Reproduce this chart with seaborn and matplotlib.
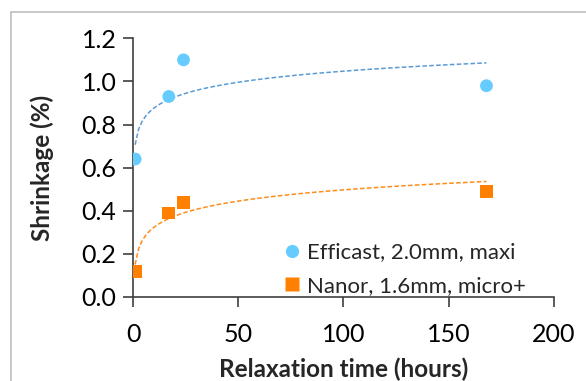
import matplotlib
matplotlib.use("Agg")
import matplotlib.pyplot as plt
from matplotlib.lines import Line2D
import seaborn as sns
import pandas as pd

sns.set_style("white")
plt.rcParams['font.family'] = ['Lato', 'DejaVu Sans']

# Data
time_hours = [1, 17, 24, 168]
efficast = [0.64, 0.93, 1.10, 0.98]
nanor = [0.12, 0.39, 0.44, 0.49]
series_names = ["Efficast, 2.0mm, maxi", "Nanor, 1.6mm, micro+"]
x_ticks = [0, 50, 100, 150, 200]
y_ticks = [0.0, 0.2, 0.4, 0.6, 0.8, 1.0, 1.2]

df = pd.DataFrame({
    "time": time_hours * 2,
    "shrink": efficast + nanor,
    "series": [series_names[0]] * 4 + [series_names[1]] * 4,
})

blue_pt = "#66CCFF"
orange_pt = "#FF8000"
blue_ln = "#5B9BD5"
orange_ln = "#FF8C1A"

fig = plt.figure(figsize=(5.86, 3.81), dpi=100)
ax = fig.add_axes([0.227, 0.2205, 0.718, 0.679])

for name, ptc, lnc in [(series_names[0], blue_pt, blue_ln), (series_names[1], orange_pt, orange_ln)]:
    sub = df[df.series == name]
    sns.regplot(data=sub, x="time", y="shrink", logx=True, ci=None, scatter=False, ax=ax,
                line_kws=dict(color=lnc, lw=1.1, ls=(0, (3, 1.5))))

sns.scatterplot(data=df, x="time", y="shrink", hue="series", style="series",
                markers={series_names[0]: "o", series_names[1]: "s"},
                palette={series_names[0]: blue_pt, series_names[1]: orange_pt},
                s=85, edgecolor="none", ax=ax, legend=False, zorder=3)

ax.set_xlim(0, 200)
ax.set_ylim(0, 1.2)
ax.set_xticks(x_ticks)
ax.set_yticks(y_ticks)
ax.set_yticklabels([f"{v:.1f}" for v in y_ticks])
ax.tick_params(axis='both', which='major', labelsize=18, length=7, width=1.2,
               color="#404040", direction='out', labelcolor="black", pad=5)
ax.tick_params(axis='x', pad=12)
for side in ["top", "right"]:
    ax.spines[side].set_visible(False)
for side in ["left", "bottom"]:
    ax.spines[side].set_color("#404040")
    ax.spines[side].set_linewidth(1.2)
ax.xaxis.set_ticks_position('bottom')
ax.yaxis.set_ticks_position('left')

ax.set_xlabel("Relaxation time (hours)", fontsize=17.5, fontweight="bold", labelpad=8)
ax.set_ylabel("Shrinkage (%)", fontsize=17.5, fontweight="bold", labelpad=20)

handles = [
    Line2D([], [], marker="o", color="none", markerfacecolor=blue_pt, markeredgecolor="none", markersize=9.5),
    Line2D([], [], marker="s", color="none", markerfacecolor=orange_pt, markeredgecolor="none", markersize=9.5),
]
ax.legend(handles, series_names, loc="lower right", bbox_to_anchor=(0.97, -0.055), frameon=False,
          fontsize=16, handlelength=0.6, handletextpad=0.35, labelspacing=0.6, borderpad=0.2)

# Chart area border (left and top visible)
W, H = 586, 381
fig.add_artist(Line2D([11 / W, 11 / W], [0, 1 - 12 / H], transform=fig.transFigure, color="#BFBFBF", lw=1.2))
fig.add_artist(Line2D([11 / W, 1], [1 - 12 / H, 1 - 12 / H], transform=fig.transFigure, color="#BFBFBF", lw=1.2))

fig.savefig("out.png", dpi=100)
